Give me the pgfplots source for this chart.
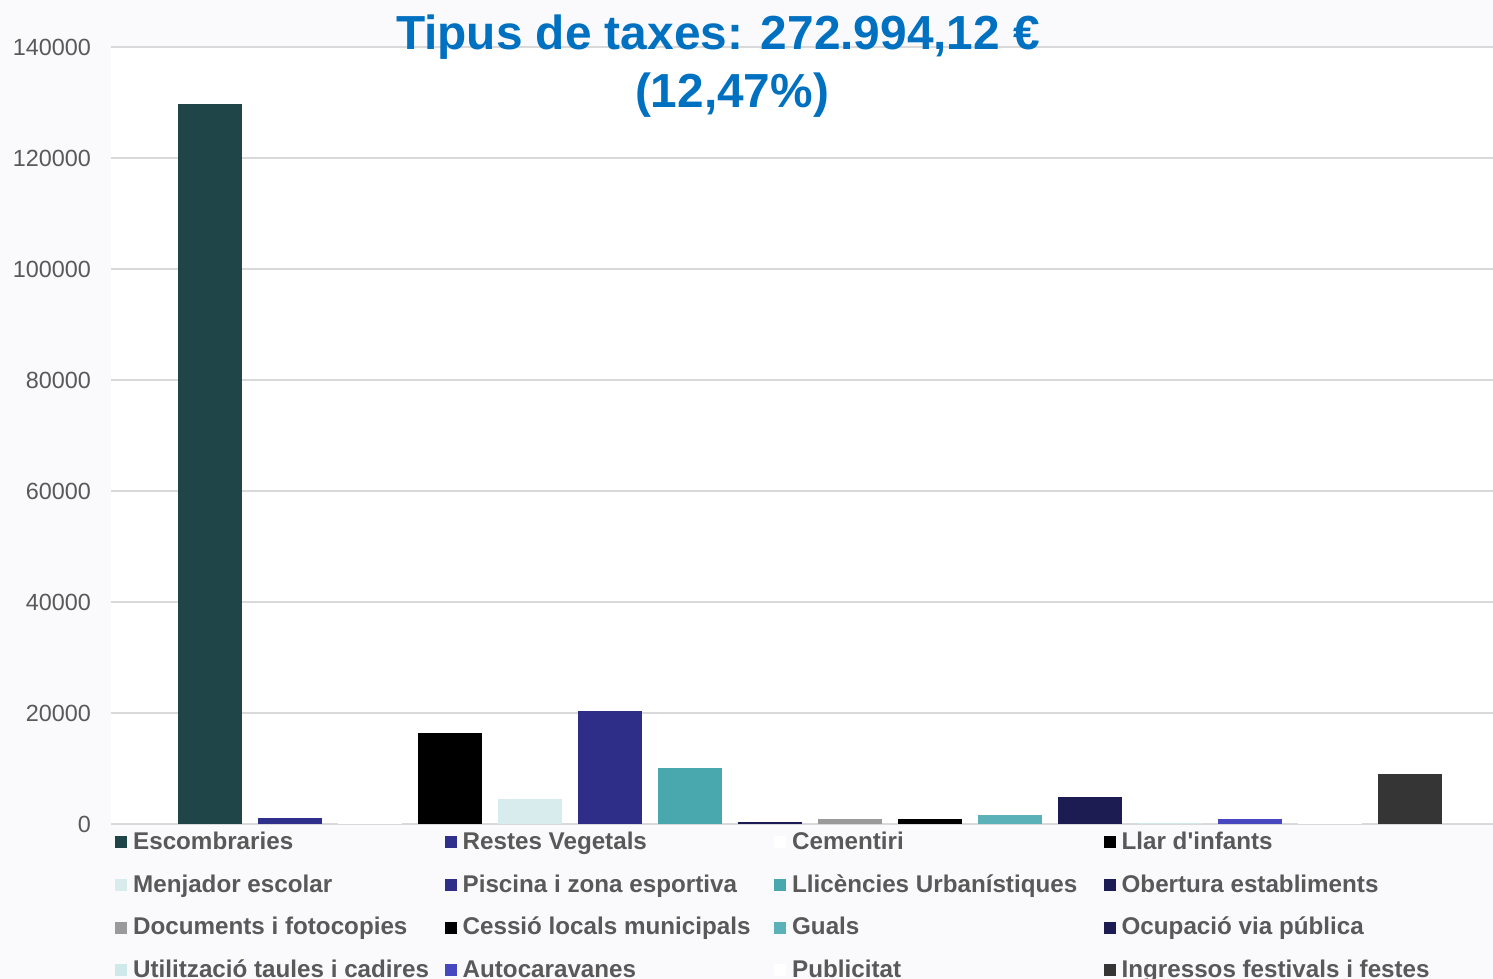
\documentclass[border=0pt]{standalone}
\usepackage{fontspec}
\setmainfont{Liberation Sans}
\usepackage{pgfplots}
\pgfplotsset{compat=1.18}
\definecolor{bg}{HTML}{FAFAFC}
\definecolor{gridc}{HTML}{D9D9D9}
\definecolor{tickc}{HTML}{595959}
\definecolor{titlec}{HTML}{0070C0}
\definecolor{cA}{HTML}{1F4548}
\definecolor{cB}{HTML}{2F2F8C}
\definecolor{cC}{HTML}{FFFFFF}
\definecolor{cD}{HTML}{000000}
\definecolor{cE}{HTML}{D8ECEE}
\definecolor{cF}{HTML}{2E2D88}
\definecolor{cG}{HTML}{48A8AE}
\definecolor{cH}{HTML}{1D1B55}
\definecolor{cI}{HTML}{9A9A9A}
\definecolor{cJ}{HTML}{000000}
\definecolor{cK}{HTML}{5BB1B8}
\definecolor{cL}{HTML}{1C1C52}
\definecolor{cM}{HTML}{CFE8EA}
\definecolor{cN}{HTML}{4747C0}
\definecolor{cO}{HTML}{FFFFFF}
\definecolor{cP}{HTML}{353535}
\newcommand{\lt}[1]{\makebox[153.75pt][l]{#1}}
\begin{document}
\begin{tikzpicture}
\fill[bg] (0,0) rectangle (746.5pt,489.5pt);
\useasboundingbox (0,0) rectangle (746.5pt,489.5pt);
\begin{axis}[
  at={(55.5pt,77.5pt)}, anchor=south west,
  width=691pt, height=388.5pt, scale only axis,
  ybar=8pt, bar width=32pt,
  xmin=0, xmax=1.977, ymin=0, ymax=140000,
  ytick={0,20000,40000,60000,80000,100000,120000,140000},
  xtick=\empty,
  axis background/.style={fill=white},
  axis line style={draw=none},
  ymajorgrids, grid style={gridc, line width=1pt},
  major tick length=0pt,
  scaled y ticks=false,
  yticklabel style={font=\fontsize{11.7}{14}\selectfont, text=tickc, xshift=-6.5pt},
  legend columns=4,
  legend style={at={(axis description cs:0.003,-0.005)}, anchor=north west,
    draw=none, fill=none, inner sep=0pt, outer sep=0pt, column sep=0pt, row sep=7pt,
    font=\bfseries\fontsize{12.1}{14}\selectfont, text=tickc, cells={anchor=west}},
  legend image code/.code={\fill[#1] (0pt,-3pt) rectangle (6pt,3pt); \path (7pt,0pt);},
  /pgf/number format/.cd, fixed, 1000 sep={}, assume math mode=true
]
\addplot[fill=cA, draw=none] coordinates {(1,129700)}; \addlegendentry{\lt{Escombraries}}
\addplot[fill=cB, draw=none] coordinates {(1,1000)}; \addlegendentry{\lt{Restes Vegetals}}
\addplot[fill=cC, draw=none] coordinates {(1,200)}; \addlegendentry{\lt{Cementiri}}
\addplot[fill=cD, draw=none] coordinates {(1,16400)}; \addlegendentry{\lt{Llar d\textquotesingle infants}}
\addplot[fill=cE, draw=none] coordinates {(1,4500)}; \addlegendentry{\lt{Menjador escolar}}
\addplot[fill=cF, draw=none] coordinates {(1,20400)}; \addlegendentry{\lt{Piscina i zona esportiva}}
\addplot[fill=cG, draw=none] coordinates {(1,10100)}; \addlegendentry{\lt{Llicències Urbanístiques}}
\addplot[fill=cH, draw=none] coordinates {(1,350)}; \addlegendentry{\lt{Obertura establiments}}
\addplot[fill=cI, draw=none] coordinates {(1,900)}; \addlegendentry{\lt{Documents i fotocopies}}
\addplot[fill=cJ, draw=none] coordinates {(1,900)}; \addlegendentry{\lt{Cessió locals municipals}}
\addplot[fill=cK, draw=none] coordinates {(1,1600)}; \addlegendentry{\lt{Guals}}
\addplot[fill=cL, draw=none] coordinates {(1,4900)}; \addlegendentry{\lt{Ocupació via pública}}
\addplot[fill=cM, draw=none] coordinates {(1,200)}; \addlegendentry{\lt{Utilització taules i cadires}}
\addplot[fill=cN, draw=none] coordinates {(1,900)}; \addlegendentry{\lt{Autocaravanes}}
\addplot[fill=cO, draw=none] coordinates {(1,100)}; \addlegendentry{\lt{Publicitat}}
\addplot[fill=cP, draw=none] coordinates {(1,9000)}; \addlegendentry{\lt{Ingressos festivals i festes}}
\end{axis}
\node[anchor=base, font=\bfseries\fontsize{23.9}{28}\selectfont, text=titlec] at (359pt,464.5pt) {Tipus de taxes: 272.994,12 €};
\node[anchor=base, font=\bfseries\fontsize{23.9}{28}\selectfont, text=titlec] at (366pt,435.5pt) {(12,47\%)};
\end{tikzpicture}
\end{document}
